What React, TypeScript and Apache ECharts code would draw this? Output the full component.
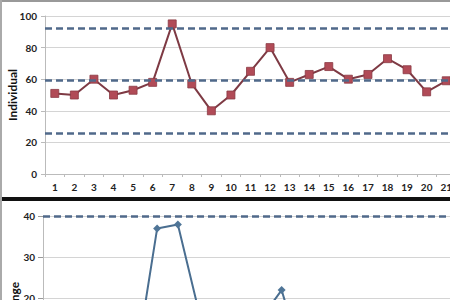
import React, { useEffect, useRef } from "react";
import * as echarts from "echarts";

const samples = ["1","2","3","4","5","6","7","8","9","10","11","12","13","14","15","16","17","18","19","20","21"];
const individualValues = [51, 50, 60, 50, 53, 58, 95, 57, 40, 50, 65, 80, 58, 63, 68, 60, 63, 73, 66, 52, 59];
const individualLimits = [92.5, 59.3, 25.5];
const individualAxis = { min: 0, max: 100, interval: 20 };

const rangeSamples = ["2","3","4","5","6","7","8","9","10","11","12","13","14","15","16","17","18","19","20","21"];
const movingRangeValues = [1, 10, 10, 3, 5, 37, 38, 17, 10, 15, 15, 22, 5, 5, 8, 3, 10, 7, 14, 7];
const rangeLimits = [40];
const rangeAxis = { min: 0, max: 40, interval: 10 };

const FONT = "Lato, 'Liberation Sans', sans-serif";
const LABEL = { fontFamily: FONT, fontSize: 10, fontWeight: "bold" as const, color: "#222" };
const DASH = "#50698a";

export default function App() {
  const ref = useRef<HTMLDivElement>(null);
  useEffect(() => {
    document.body.style.margin = "0";
    if (!ref.current) return;
    const chart = echarts.init(ref.current, undefined, { renderer: "svg" });
    const dashed = (vals: number[]) => ({
      silent: true,
      symbol: ["none", "none"],
      label: { show: false },
      lineStyle: { type: [7, 4], color: DASH, width: 2.5 },
      data: vals.map((v) => ({ yAxis: v })),
    });
    chart.setOption({
      animation: false,
      backgroundColor: "#fff",
      grid: [
        { left: 45, top: 16, width: 411, height: 158, outerBoundsMode: "none", containLabel: false },
        { left: 43, top: 216.3, width: 415, height: 164, outerBoundsMode: "none", containLabel: false },
      ],
      xAxis: [
        {
          type: "category", gridIndex: 0, data: samples, boundaryGap: true,
          axisLine: { lineStyle: { color: "#bbb", width: 1 } },
          axisTick: { show: true, length: 3, lineStyle: { color: "#bbb" } },
          axisLabel: { ...LABEL, margin: 8, interval: 0 },
        },
        {
          type: "category", gridIndex: 1, data: rangeSamples, boundaryGap: true,
          axisLine: { lineStyle: { color: "#bbb" } },
          axisLabel: { show: false },
        },
      ],
      yAxis: [
        {
          type: "value", gridIndex: 0, ...individualAxis,
          name: "Individual", nameLocation: "middle", nameGap: 27, nameMoveOverlap: false,
          nameTextStyle: { fontFamily: FONT, fontSize: 12, fontWeight: "bold", color: "#111" },
          axisLine: { show: true, lineStyle: { color: "#bbb" } },
          axisTick: { show: true, length: 4, lineStyle: { color: "#bbb" } },
          axisLabel: { ...LABEL, margin: 8 },
          splitLine: { lineStyle: { color: "#d4d4d4", width: 1.2 } },
        },
        {
          type: "value", gridIndex: 1, ...rangeAxis,
          name: "Range", nameLocation: "middle", nameGap: 23, nameMoveOverlap: false,
          nameTextStyle: { fontFamily: FONT, fontSize: 12, fontWeight: "bold", color: "#111" },
          axisLine: { show: true, lineStyle: { color: "#bbb" } },
          axisTick: { show: true, length: 5, lineStyle: { color: "#999" } },
          axisLabel: { ...LABEL, margin: 8 },
          splitLine: { lineStyle: { color: "#d4d4d4", width: 1.2 } },
        },
      ],
      series: [
        {
          type: "line", xAxisIndex: 0, yAxisIndex: 0, data: individualValues,
          symbol: "rect", symbolSize: 8,
          lineStyle: { color: "#7e3a44", width: 2 },
          itemStyle: { color: "#b14b57", borderColor: "#8a3a44", borderWidth: 0.8 },
          markLine: dashed(individualLimits),
        },
        {
          type: "line", xAxisIndex: 1, yAxisIndex: 1, data: movingRangeValues,
          symbol: "diamond", symbolSize: 8,
          lineStyle: { color: "#4a6e90", width: 2 },
          itemStyle: { color: "#4f7597" },
          markLine: dashed(rangeLimits),
        },
      ],
      graphic: [
        { type: "rect", shape: { x: 0, y: 197, width: 450, height: 4 }, style: { fill: "#111" }, z: 100 },
        { type: "line", shape: { x1: 0, y1: 1, x2: 450, y2: 1 }, style: { stroke: "#999", lineWidth: 2 }, z: 100 },
        { type: "line", shape: { x1: 1, y1: 0, x2: 1, y2: 300 }, style: { stroke: "#aaa", lineWidth: 2 }, z: 100 },
      ],
    });
    return () => chart.dispose();
  }, []);
  return <div ref={ref} style={{ width: 450, height: 300 }} />;
}
